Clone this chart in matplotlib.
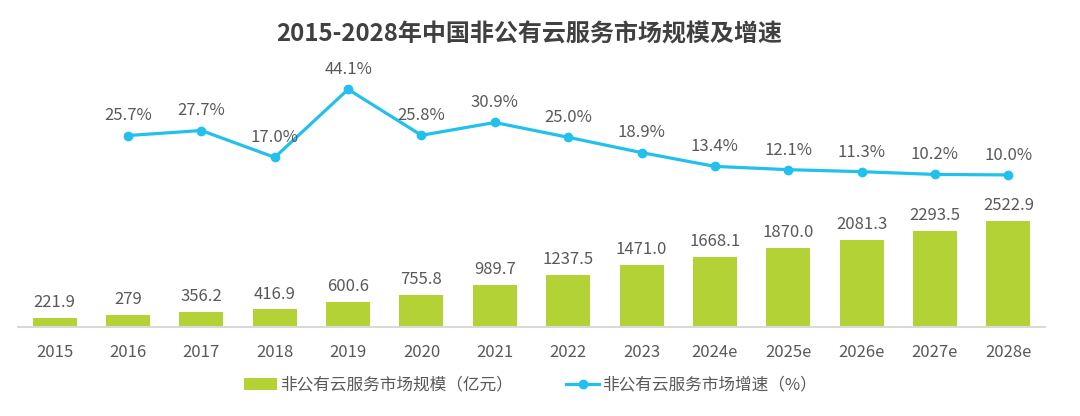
import matplotlib
matplotlib.use('Agg')
import matplotlib.pyplot as plt
import numpy as np

plt.rcParams['font.family'] = ['Noto Sans CJK SC', 'DejaVu Sans']

# data
years = ['2015', '2016', '2017', '2018', '2019', '2020', '2021', '2022', '2023',
         '2024e', '2025e', '2026e', '2027e', '2028e']
market_size = [221.9, 279, 356.2, 416.9, 600.6, 755.8, 989.7, 1237.5, 1471.0,
               1668.1, 1870.0, 2081.3, 2293.5, 2522.9]
size_labels = ['221.9', '279', '356.2', '416.9', '600.6', '755.8', '989.7', '1237.5',
               '1471.0', '1668.1', '1870.0', '2081.3', '2293.5', '2522.9']
growth_years = years[1:]
growth = [25.7, 27.7, 17.0, 44.1, 25.8, 30.9, 25.0, 18.9, 13.4, 12.1, 11.3, 10.2, 10.0]

bar_color = '#B3D235'
line_color = '#22C0EC'
text_color = '#595959'

fig = plt.figure(figsize=(10.8, 4.16), dpi=100)
ax = fig.add_axes([18 / 1080, 1 - 327 / 416, 1027 / 1080, 267 / 416])
x = np.arange(len(years))

bars = ax.bar(x, market_size, width=0.6, color=bar_color, label='非公有云服务市场规模（亿元）')
for xi, v, s in zip(x, market_size, size_labels):
    ax.annotate(s, (xi, v), xytext=(0, 5), textcoords='offset points',
                ha='center', va='bottom', fontsize=12, color=text_color)

ax.set_xlim(-0.5, len(years) - 0.5)
ax.set_ylim(0, 6355)
ax.set_xticks(x)
ax.set_xticklabels(years, fontsize=12, color=text_color)
ax.tick_params(axis='x', length=0, pad=12)
ax.set_yticks([])
for side in ['top', 'right', 'left']:
    ax.spines[side].set_visible(False)
ax.spines['bottom'].set_color('#D9D9D9')
ax.spines['bottom'].set_linewidth(1.5)

ax2 = ax.twinx()
gx = x[1:]
line, = ax2.plot(gx, growth, color=line_color, linewidth=2.3, marker='o', markersize=6,
                 label='非公有云服务市场增速（%）')
for xi, v in zip(gx, growth):
    ax2.annotate(f'{v:.1f}%', (xi, v), xytext=(0, 8), textcoords='offset points',
                 ha='center', va='bottom', fontsize=12, color=text_color)
ax2.set_ylim(-50.6, 55.8)
ax2.set_yticks([])
for side in ['top', 'right', 'left', 'bottom']:
    ax2.spines[side].set_visible(False)

fig.text(0.49, 1 - 35 / 416, '2015-2028年中国非公有云服务市场规模及增速', ha='center', va='center',
         fontsize=17.3, fontweight='bold', color='#404040')

leg = fig.legend(handles=[bars, line], loc='center', bbox_to_anchor=(0.491, 1 - 385 / 416),
                 ncol=2, frameon=False, fontsize=12, columnspacing=3.2,
                 handlelength=2.0, handletextpad=0.15)
for t in leg.get_texts():
    t.set_color(text_color)

fig.savefig('out.png', dpi=100)
